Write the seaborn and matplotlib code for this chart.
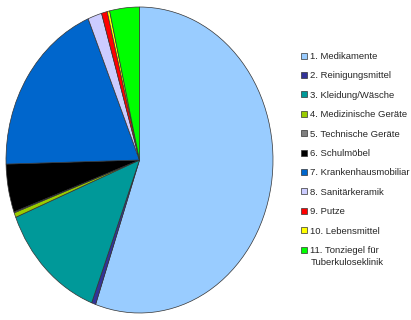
import matplotlib
matplotlib.use("Agg")
import matplotlib.pyplot as plt
import seaborn as sns
from matplotlib.patches import Patch

sns.set_style("white")
plt.rcParams['font.family'] = ['Liberation Sans', 'DejaVu Sans']

categories = ["1. Medikamente", "2. Reinigungsmittel", "3. Kleidung/Wäsche",
              "4. Medizinische Geräte", "5. Technische Geräte", "6. Schulmöbel",
              "7. Krankenhausmobiliar", "8. Sanitärkeramik", "9. Putze",
              "10. Lebensmittel", "11. Tonziegel für\nTuberkuloseklinik"]
values = [55.5, 0.5, 13.1, 0.5, 0.1, 5.1, 19.2, 1.7, 0.7, 0.3, 3.6]
colors = ["#99CCFF", "#333399", "#009999", "#99CC00", "#808080", "#000000",
          "#0066CC", "#CCCCFF", "#FF0000", "#FFFF00", "#00FF00"]

W, H = 411, 320
fig = plt.figure(figsize=(W / 100, H / 100), dpi=100)
# elliptical pie area: x 6..273, y 7..313 (pixels, top origin)
ax = fig.add_axes([6 / W, (H - 313) / H, 267 / W, 306 / H])
ax.pie(values, colors=colors, startangle=90, counterclock=False,
       wedgeprops=dict(edgecolor="#333333", linewidth=0.5))
ax.set_aspect('auto')
ax.set_xlim(-1.0, 1.0)
ax.set_ylim(-1.0, 1.0)
ax.axis('off')

first_lines = [c.split("\n")[0] for c in categories]
handles = [Patch(facecolor=c, edgecolor="#333333", linewidth=0.5) for c in colors]
leg = fig.legend(handles, first_lines, loc='upper left',
                 bbox_to_anchor=(301 / W, (H - 52) / H), frameon=False,
                 fontsize=6.8, handlelength=0.6, handleheight=0.6,
                 handletextpad=0.35, labelspacing=1.1, borderpad=0,
                 borderaxespad=0)

# continuation lines of multi-line labels, aligned under the label text
fig.canvas.draw()
renderer = fig.canvas.get_renderer()
inv = fig.transFigure.inverted()
for txt, cat in zip(leg.get_texts(), categories):
    parts = cat.split("\n")
    if len(parts) > 1:
        bb = txt.get_window_extent(renderer)
        x0, y0 = inv.transform((bb.x0, bb.y0))
        for k, extra in enumerate(parts[1:], start=1):
            yy = y0 - k * 12 / H
            fig.text(x0 + 1 / W, yy, extra, fontsize=6.8, va='bottom', ha='left')

fig.savefig("out.png", dpi=100)
